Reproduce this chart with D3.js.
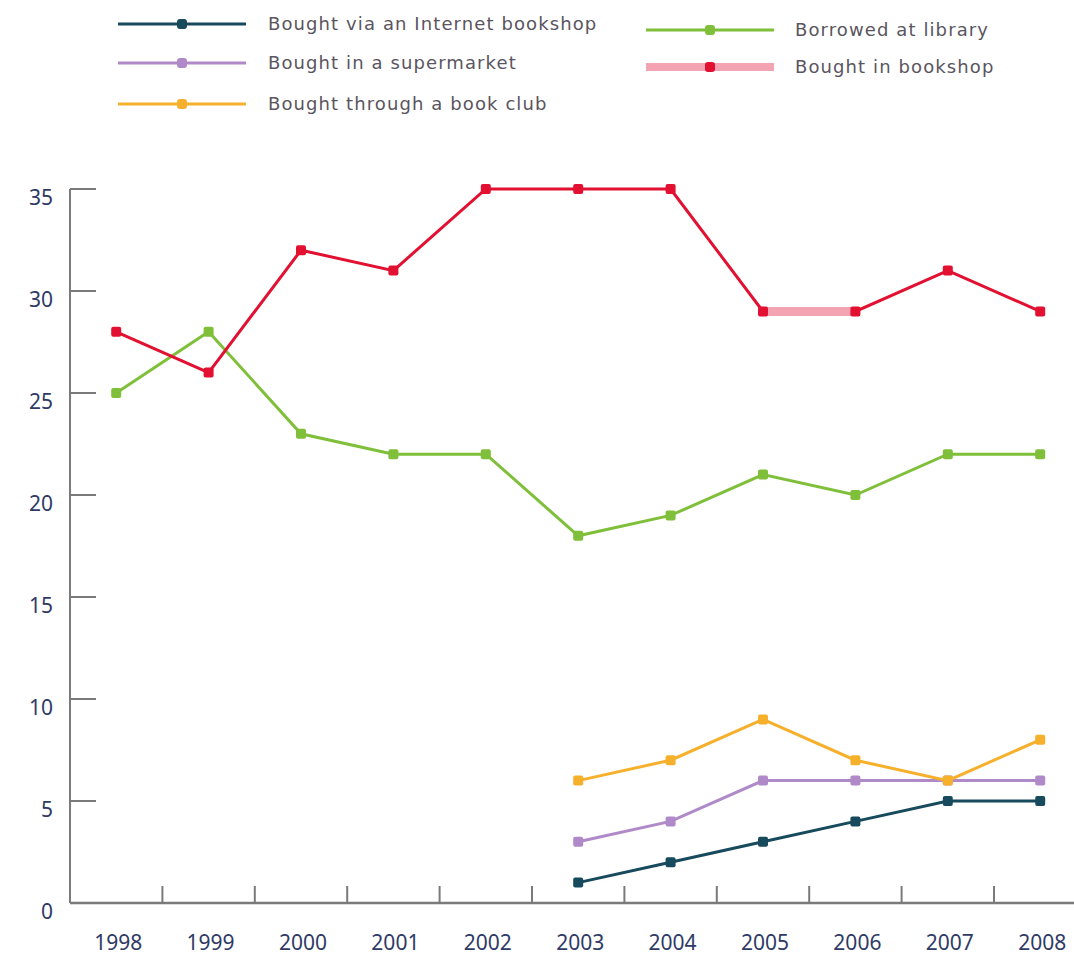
<!DOCTYPE html>
<html>
<head>
<meta charset="utf-8">
<script src="https://cdn.jsdelivr.net/npm/d3@7"></script>
<style>
  body { margin: 0; background: #fff; }
  svg { display: block; font-family: "Noto Sans", "Open Sans", sans-serif; }
</style>
</head>
<body>
<script>
// data
const years = ["1998","1999","2000","2001","2002","2003","2004","2005","2006","2007","2008"];
const yTicks = [0, 5, 10, 15, 20, 25, 30, 35];

const internetYears = ["2003","2004","2005","2006","2007","2008"];
const internetValues = [1, 2, 3, 4, 5, 5];
const supermarketValues = [3, 4, 6, 6, 6, 6];
const bookClubValues = [6, 7, 9, 7, 6, 8];
const libraryValues = [25, 28, 23, 22, 22, 18, 19, 21, 20, 22, 22];
const bookshopValues = [28, 26, 32, 31, 35, 35, 35, 29, 29, 31, 29];
const bookshopHighlight = ["2005", "2006"];

const seriesNames = [
  "Bought via an Internet bookshop",
  "Bought in a supermarket",
  "Bought through a book club",
  "Borrowed at library",
  "Bought in bookshop"
];

const series = [
  {name: seriesNames[0], color: "#174a5c", years: internetYears, values: internetValues},
  {name: seriesNames[1], color: "#b08ac8", years: internetYears, values: supermarketValues},
  {name: seriesNames[2], color: "#f6b02c", years: internetYears, values: bookClubValues},
  {name: seriesNames[3], color: "#7fbf3a", years: years, values: libraryValues},
  {name: seriesNames[4], color: "#e21031", years: years, values: bookshopValues}
];

const width = 1074, height = 956;
const svg = d3.select("body").append("svg")
  .attr("width", width)
  .attr("height", height);

const x0 = 70, bandW = 92.4;
const x = d3.scaleBand()
  .domain(years)
  .range([x0, x0 + bandW * years.length])
  .padding(0);
const y = d3.scaleLinear()
  .domain([0, 35])
  .range([903, 189]);
const cx = d => x(d) + x.bandwidth() / 2;

const axisColor = "#7a7a7a";
const labelColor = "#2f3a66";

// y axis
const yAxis = svg.append("g");
yAxis.append("line")
  .attr("x1", x0).attr("x2", x0)
  .attr("y1", y(35)).attr("y2", y(0))
  .attr("stroke", axisColor).attr("stroke-width", 2);
yAxis.selectAll(".ytick").data(yTicks).enter().append("line")
  .attr("x1", x0).attr("x2", x0 + 26)
  .attr("y1", d => y(d)).attr("y2", d => y(d))
  .attr("stroke", axisColor).attr("stroke-width", 2);
yAxis.selectAll(".ylab").data(yTicks).enter().append("text")
  .attr("x", 53)
  .attr("y", d => y(d) + 16)
  .attr("text-anchor", "end")
  .attr("font-size", 21)
  .attr("fill", labelColor)
  .text(d => d);

// x axis
const xAxis = svg.append("g");
xAxis.append("line")
  .attr("x1", x0).attr("x2", width)
  .attr("y1", y(0)).attr("y2", y(0))
  .attr("stroke", axisColor).attr("stroke-width", 2.5);
xAxis.selectAll(".xtick").data(years.slice(1)).enter().append("line")
  .attr("x1", d => x(d)).attr("x2", d => x(d))
  .attr("y1", y(0)).attr("y2", y(0) - 17)
  .attr("stroke", axisColor).attr("stroke-width", 2);
xAxis.selectAll(".xlab").data(years).enter().append("text")
  .attr("x", d => cx(d) + 2)
  .attr("y", 950)
  .attr("text-anchor", "middle")
  .attr("font-size", 21)
  .attr("fill", labelColor)
  .text(d => d);

// lines
const line = d3.line()
  .x(d => cx(d.year))
  .y(d => y(d.value));

series.forEach(s => {
  const pts = s.years.map((yr, i) => ({year: yr, value: s.values[i]}));
  const g = svg.append("g");
  g.append("path")
    .datum(pts)
    .attr("d", line)
    .attr("fill", "none")
    .attr("stroke", s.color)
    .attr("stroke-width", 3);
  if (s.name === seriesNames[4]) {
    const hl = pts.filter(p => bookshopHighlight.includes(p.year));
    g.append("path")
      .datum(hl)
      .attr("d", line)
      .attr("fill", "none")
      .attr("stroke", "#f3a3b1")
      .attr("stroke-width", 9);
  }
  g.selectAll("rect").data(pts).enter().append("rect")
    .attr("x", d => cx(d.year) - 5)
    .attr("y", d => y(d.value) - 5)
    .attr("width", 10).attr("height", 10)
    .attr("rx", 2)
    .attr("fill", s.color);
});

// legend
const legendPos = [
  {lx: 118, ly: 24}, {lx: 118, ly: 63}, {lx: 118, ly: 104},
  {lx: 646, ly: 30}, {lx: 646, ly: 67}
];
const legend = svg.append("g");
series.forEach((s, i) => {
  const p = legendPos[i];
  const g = legend.append("g").attr("transform", `translate(${p.lx},${p.ly})`);
  const isBookshop = s.name === seriesNames[4];
  g.append("line")
    .attr("x1", 0).attr("x2", 128)
    .attr("y1", 0).attr("y2", 0)
    .attr("stroke", isBookshop ? "#f3a3b1" : s.color)
    .attr("stroke-width", isBookshop ? 8 : 3);
  g.append("rect")
    .attr("x", 59).attr("y", -5)
    .attr("width", 10).attr("height", 10)
    .attr("rx", 3)
    .attr("fill", s.color);
  g.append("text")
    .attr("x", i < 3 ? 150 : 149)
    .attr("y", 6)
    .attr("font-family", "DejaVu Sans, sans-serif")
    .attr("font-size", 18)
    .attr("letter-spacing", 1.1)
    .attr("fill", "#5a5560")
    .text(s.name);
});
</script>
</body>
</html>
